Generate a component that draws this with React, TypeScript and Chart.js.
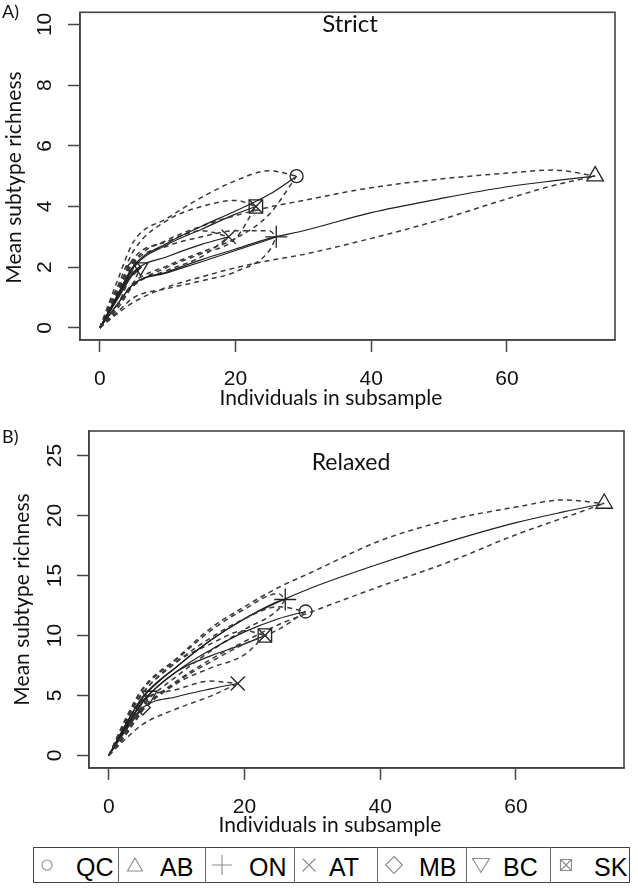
import React, { useEffect, useRef } from "react";
import { Chart, registerables } from "chart.js";

Chart.register(...registerables);

// ---------- data ----------
const REGIONS = ["QC", "AB", "ON", "AT", "MB", "BC", "SK"];
const X_TICKS = [0, 20, 40, 60];
const STRICT_Y_TICKS = [0, 2, 4, 6, 8, 10];
const RELAXED_Y_TICKS = [0, 5, 10, 15, 20, 25];

// subsample sizes at which each region's curve is drawn
const X_QC = [0, 2.5, 5, 10, 15, 20, 25, 29];
const X_AB = [0, 2.5, 5, 10, 15, 20, 25, 30, 40, 50, 60, 67, 73];
const X_ON = [0, 2.5, 5, 10, 15, 20, 25, 26];
const X_AT = [0, 2.5, 5, 10, 15, 19];
const X_MB = [0, 2.5, 5];
const X_BC = [0, 2.5, 5, 6];
const X_SK = [0, 2.5, 5, 10, 15, 20, 23];

// A) Strict
const STRICT_QC_MEAN = [0, 1.05, 2.05, 2.8, 3.35, 3.85, 4.4, 5];
const STRICT_QC_HIGH = [0, 1.5, 2.85, 3.62, 4.3, 4.85, 5.18, 5];
const STRICT_QC_LOW = [0, 0.75, 1.5, 2.05, 2.5, 2.95, 3.75, 5];
const STRICT_AB_MEAN = [0, 0.75, 1.45, 1.85, 2.25, 2.6, 2.95, 3.2, 3.8, 4.25, 4.65, 4.85, 5];
const STRICT_AB_HIGH = [0, 1.15, 2.2, 2.9, 3.35, 3.7, 3.98, 4.2, 4.62, 4.9, 5.1, 5.2, 5];
const STRICT_AB_LOW = [0, 0.45, 0.85, 1.35, 1.68, 1.98, 2.22, 2.42, 2.95, 3.55, 4.25, 4.7, 5];
const STRICT_ON_MEAN = [0, 0.75, 1.45, 1.82, 2.18, 2.55, 2.92, 3];
const STRICT_ON_HIGH = [0, 1.1, 2.15, 2.7, 3.0, 3.2, 3.2, 3];
const STRICT_ON_LOW = [0, 0.5, 1.0, 1.3, 1.55, 1.85, 2.55, 3];
const STRICT_AT_MEAN = [0, 0.95, 1.85, 2.35, 2.75, 3];
const STRICT_AT_HIGH = [0, 1.2, 2.3, 2.85, 3.2, 3];
const STRICT_AT_LOW = [0, 0.7, 1.4, 1.9, 2.35, 3];
const STRICT_MB_MEAN = [0, 1.0, 2];
const STRICT_MB_HIGH = [0, 1.3, 2];
const STRICT_MB_LOW = [0, 0.7, 2];
const STRICT_BC_MEAN = [0, 0.9, 1.8, 2];
const STRICT_BC_HIGH = [0, 1.2, 2.15, 2];
const STRICT_BC_LOW = [0, 0.6, 1.5, 2];
const STRICT_SK_MEAN = [0, 1.0, 2.0, 2.75, 3.25, 3.75, 4];
const STRICT_SK_HIGH = [0, 1.3, 2.55, 3.55, 4.0, 4.2, 4];
const STRICT_SK_LOW = [0, 0.7, 1.4, 2.0, 2.45, 2.95, 4];

// B) Relaxed
const RELAXED_QC_MEAN = [0, 2.4, 4.5, 7.0, 8.8, 10.3, 11.4, 12];
const RELAXED_QC_HIGH = [0, 2.9, 5.2, 7.8, 9.8, 11.4, 12.4, 12];
const RELAXED_QC_LOW = [0, 1.9, 3.8, 6.1, 7.8, 9.3, 10.5, 12];
const RELAXED_AB_MEAN = [0, 2.6, 4.9, 7.4, 9.6, 11.4, 12.8, 14.0, 16.0, 17.8, 19.4, 20.3, 21];
const RELAXED_AB_HIGH = [0, 3.1, 5.6, 8.1, 10.6, 12.4, 14.0, 15.3, 17.9, 19.6, 20.7, 21.3, 21];
const RELAXED_AB_LOW = [0, 2.0, 3.9, 6.2, 8.0, 9.5, 10.9, 12.0, 14.1, 16.1, 18.4, 19.8, 21];
const RELAXED_ON_MEAN = [0, 2.6, 4.8, 7.4, 9.6, 11.4, 12.85, 13];
const RELAXED_ON_HIGH = [0, 3.0, 5.5, 8.0, 10.4, 12.2, 13.5, 13];
const RELAXED_ON_LOW = [0, 2.2, 4.2, 6.6, 8.7, 10.5, 12.2, 13];
const RELAXED_AT_MEAN = [0, 2.2, 4.0, 4.9, 5.55, 6];
const RELAXED_AT_HIGH = [0, 2.6, 4.6, 5.5, 6.2, 6];
const RELAXED_AT_LOW = [0, 1.4, 2.6, 3.9, 4.95, 6];
const RELAXED_MB_MEAN = [0, 2.1, 4];
const RELAXED_MB_HIGH = [0, 2.5, 4];
const RELAXED_MB_LOW = [0, 1.7, 4];
const RELAXED_BC_MEAN = [0, 2.3, 4.4, 5];
const RELAXED_BC_HIGH = [0, 2.8, 5.0, 5];
const RELAXED_BC_LOW = [0, 1.8, 3.8, 5];
const RELAXED_SK_MEAN = [0, 2.4, 4.5, 7.0, 8.3, 9.3, 10];
const RELAXED_SK_HIGH = [0, 2.8, 5.2, 7.8, 9.3, 10.4, 10];
const RELAXED_SK_LOW = [0, 2.0, 3.8, 6.0, 7.3, 8.4, 10];

// ---------- tables built from the arrays ----------
type Series = { name: string; xs: number[]; mean: number[]; low: number[]; high: number[] };

const STRICT: Series[] = [
  { name: "QC", xs: X_QC, mean: STRICT_QC_MEAN, low: STRICT_QC_LOW, high: STRICT_QC_HIGH },
  { name: "AB", xs: X_AB, mean: STRICT_AB_MEAN, low: STRICT_AB_LOW, high: STRICT_AB_HIGH },
  { name: "ON", xs: X_ON, mean: STRICT_ON_MEAN, low: STRICT_ON_LOW, high: STRICT_ON_HIGH },
  { name: "AT", xs: X_AT, mean: STRICT_AT_MEAN, low: STRICT_AT_LOW, high: STRICT_AT_HIGH },
  { name: "MB", xs: X_MB, mean: STRICT_MB_MEAN, low: STRICT_MB_LOW, high: STRICT_MB_HIGH },
  { name: "BC", xs: X_BC, mean: STRICT_BC_MEAN, low: STRICT_BC_LOW, high: STRICT_BC_HIGH },
  { name: "SK", xs: X_SK, mean: STRICT_SK_MEAN, low: STRICT_SK_LOW, high: STRICT_SK_HIGH },
];

const RELAXED: Series[] = [
  { name: "QC", xs: X_QC, mean: RELAXED_QC_MEAN, low: RELAXED_QC_LOW, high: RELAXED_QC_HIGH },
  { name: "AB", xs: X_AB, mean: RELAXED_AB_MEAN, low: RELAXED_AB_LOW, high: RELAXED_AB_HIGH },
  { name: "ON", xs: X_ON, mean: RELAXED_ON_MEAN, low: RELAXED_ON_LOW, high: RELAXED_ON_HIGH },
  { name: "AT", xs: X_AT, mean: RELAXED_AT_MEAN, low: RELAXED_AT_LOW, high: RELAXED_AT_HIGH },
  { name: "MB", xs: X_MB, mean: RELAXED_MB_MEAN, low: RELAXED_MB_LOW, high: RELAXED_MB_HIGH },
  { name: "BC", xs: X_BC, mean: RELAXED_BC_MEAN, low: RELAXED_BC_LOW, high: RELAXED_BC_HIGH },
  { name: "SK", xs: X_SK, mean: RELAXED_SK_MEAN, low: RELAXED_SK_LOW, high: RELAXED_SK_HIGH },
];

// ---------- styles ----------
const MARKERS: Record<string, { style: string; r: number; rot?: number }[]> = {
  QC: [{ style: "circle", r: 6.5 }],
  AB: [{ style: "triangle", r: 9.5 }],
  ON: [{ style: "cross", r: 11 }],
  AT: [{ style: "crossRot", r: 10 }],
  MB: [{ style: "rectRot", r: 7.5 }],
  BC: [{ style: "triangle", r: 8.5, rot: 180 }],
  SK: [{ style: "rect", r: 9.5 }, { style: "crossRot", r: 9.5 }],
};
const LEGEND_LAYOUT = [
  { l: 33, sx: 47, tx: 76 },
  { l: 118, sx: 135, tx: 160 },
  { l: 205, sx: 222, tx: 249 },
  { l: 294, sx: 309, tx: 329 },
  { l: 377, sx: 394, tx: 419 },
  { l: 466, sx: 481, tx: 503 },
  { l: 550, sx: 566, tx: 594 },
];

const TICK_FONT = { family: "'Liberation Sans', Arial, sans-serif", size: 21 };
const TITLE_FONT = "Lato, 'Open Sans', sans-serif";

function buildDatasets(series: Series[]) {
  const ds: any[] = [];
  const common = {
    showLine: true,
    pointRadius: 0,
    pointHoverRadius: 0,
    fill: false,
    cubicInterpolationMode: "monotone",
  };
  for (const s of series) {
    const pts = (ys: number[]) => s.xs.map((x, i) => ({ x, y: ys[i] }));
    ds.push({ ...common, data: pts(s.high), borderColor: "#3a3a3a", borderWidth: 1.5, borderDash: [5, 4] });
    ds.push({ ...common, data: pts(s.low), borderColor: "#3a3a3a", borderWidth: 1.5, borderDash: [5, 4] });
    ds.push({ ...common, data: pts(s.mean), borderColor: "#1e1e1e", borderWidth: 1.2 });
  }
  for (const s of series) {
    const last = s.xs.length - 1;
    for (const m of MARKERS[s.name]) {
      ds.push({
        data: [{ x: s.xs[last], y: s.mean[last] }],
        showLine: false,
        pointStyle: m.style,
        pointRadius: m.r,
        pointHoverRadius: m.r,
        pointRotation: m.rot || 0,
        pointBorderColor: "#222",
        pointBackgroundColor: "rgba(0,0,0,0)",
        pointBorderWidth: 1.3,
        clip: false,
      });
    }
  }
  return ds;
}

const boxPlugin = {
  id: "rbox",
  afterDatasetsDraw(chart: any) {
    const { ctx, chartArea } = chart;
    ctx.save();
    ctx.strokeStyle = "#444";
    ctx.lineWidth = 1.6;
    ctx.strokeRect(chartArea.left, chartArea.top, chartArea.right - chartArea.left, chartArea.bottom - chartArea.top);
    ctx.restore();
  },
};

type PanelProps = {
  series: Series[];
  yTicks: number[];
  yMin: number;
  yMax: number;
  top: number;
  right: number;
  yWidth: number;
  xHeight: number;
  yPad: number;
  height: number;
};

function Panel(p: PanelProps) {
  const ref = useRef<HTMLCanvasElement>(null);
  useEffect(() => {
    const grid = {
      display: true,
      drawOnChartArea: false,
      drawTicks: true,
      tickLength: 12,
      tickColor: "#444",
      tickWidth: 1.5,
    };
    const border = { display: true, color: "#444", width: 1.5 };
    const chart = new Chart(ref.current as HTMLCanvasElement, {
      type: "scatter",
      data: { datasets: buildDatasets(p.series) },
      plugins: [boxPlugin],
      options: {
        animation: false,
        responsive: false,
        devicePixelRatio: 1,
        events: [],
        layout: { padding: { top: p.top, right: p.right, left: 0, bottom: 0 } },
        plugins: { legend: { display: false }, tooltip: { enabled: false }, title: { display: false } },
        scales: {
          x: {
            type: "linear",
            min: -2.92,
            max: 75.92,
            afterBuildTicks: (s: any) => {
              s.ticks = X_TICKS.map((v) => ({ value: v }));
            },
            afterFit: (s: any) => {
              s.height = p.xHeight;
              s.paddingLeft = 0;
              s.paddingRight = 0;
            },
            ticks: { font: TICK_FONT, color: "#111", padding: 15, maxRotation: 0, autoSkip: false },
            grid,
            border,
          },
          y: {
            type: "linear",
            min: p.yMin,
            max: p.yMax,
            afterBuildTicks: (s: any) => {
              s.ticks = p.yTicks.map((v) => ({ value: v }));
            },
            afterFit: (s: any) => {
              s.width = p.yWidth;
              s.paddingTop = 0;
              s.paddingBottom = 0;
            },
            ticks: {
              font: TICK_FONT,
              color: "#111",
              padding: p.yPad,
              minRotation: 90,
              maxRotation: 90,
              crossAlign: "center",
              autoSkip: false,
            },
            grid,
            border,
          },
        },
      } as any,
    });
    return () => chart.destroy();
  }, []);
  return <canvas ref={ref} width={638} height={p.height} style={{ display: "block", width: 638, height: p.height }} />;
}

function Text(props: { children: any; style: any }) {
  return (
    <div style={{ position: "absolute", whiteSpace: "nowrap", color: "#111", lineHeight: 1, ...props.style }}>
      {props.children}
    </div>
  );
}

function YTitle(props: { cx: number; cy: number }) {
  const w = 260;
  return (
    <div
      style={{
        position: "absolute",
        left: props.cx - w / 2,
        top: props.cy - 10.5,
        width: w,
        height: 21,
        lineHeight: "21px",
        fontFamily: TITLE_FONT,
        fontSize: 21,
        textAlign: "center",
        color: "#111",
        transform: "rotate(-90deg)",
        whiteSpace: "nowrap",
      }}
    >
      Mean subtype richness
    </div>
  );
}

function LegendGlyph(props: { name: string }) {
  const st = { fill: "none", stroke: "#8c8c8c", strokeWidth: 1.1 };
  let shape: any = null;
  switch (props.name) {
    case "QC":
      shape = <circle cx={12} cy={12} r={5} {...st} />;
      break;
    case "AB":
      shape = <polygon points="12,5 19.5,18 4.5,18" {...st} />;
      break;
    case "ON":
      shape = <path d="M2 12 H22 M12 2 V22" {...st} />;
      break;
    case "AT":
      shape = <path d="M5.5 5.5 L18.5 18.5 M18.5 5.5 L5.5 18.5" {...st} />;
      break;
    case "MB":
      shape = <polygon points="12,3.5 20.5,12 12,20.5 3.5,12" {...st} />;
      break;
    case "BC":
      shape = <polygon points="3.5,5.5 20.5,5.5 12,19.5" {...st} />;
      break;
    case "SK":
      shape = (
        <g {...st}>
          <rect x={6.5} y={6.5} width={11} height={11} />
          <path d="M6.5 6.5 L17.5 17.5 M17.5 6.5 L6.5 17.5" />
        </g>
      );
      break;
  }
  return (
    <svg width={24} height={24} viewBox="0 0 24 24" style={{ display: "block" }}>
      {shape}
    </svg>
  );
}

export default function App() {
  return (
    <div style={{ position: "absolute", left: 0, top: 0, width: 638, height: 894, background: "#fff", overflow: "hidden" }}>
      <div style={{ position: "absolute", left: 0, top: 0 }}>
        <Panel series={STRICT} yTicks={STRICT_Y_TICKS} yMin={-0.4} yMax={10.4} top={3} right={23} yWidth={80} xHeight={72} yPad={11} height={412} />
      </div>
      <div style={{ position: "absolute", left: 0, top: 412 }}>
        <Panel series={RELAXED} yTicks={RELAXED_Y_TICKS} yMin={-1.04} yMax={27.04} top={19} right={14} yWidth={89} xHeight={64} yPad={10} height={420} />
      </div>

      <Text style={{ left: 2, top: 2, fontFamily: TITLE_FONT, fontSize: 18 }}>A)</Text>
      <Text style={{ left: 2, top: 427, fontFamily: TITLE_FONT, fontSize: 18 }}>B)</Text>
      <Text style={{ left: 250, width: 200, top: 10.7, textAlign: "center", fontFamily: TITLE_FONT, fontSize: 24 }}>Strict</Text>
      <Text style={{ left: 251, width: 200, top: 449.6, textAlign: "center", fontFamily: TITLE_FONT, fontSize: 23 }}>Relaxed</Text>
      <Text style={{ left: 181, width: 300, top: 386.4, textAlign: "center", fontFamily: TITLE_FONT, fontSize: 21 }}>Individuals in subsample</Text>
      <Text style={{ left: 180, width: 300, top: 813.4, textAlign: "center", fontFamily: TITLE_FONT, fontSize: 21 }}>Individuals in subsample</Text>
      <YTitle cx={12.4} cy={177} />
      <YTitle cx={20.4} cy={599} />

      <div style={{ position: "absolute", left: 33, top: 847, width: 597, height: 36, border: "1px solid #444", boxSizing: "border-box" }} />
      {REGIONS.map((name, i) => {
        const c = LEGEND_LAYOUT[i];
        return (
          <React.Fragment key={name}>
            {i > 0 && <div style={{ position: "absolute", left: c.l, top: 847, width: 1, height: 36, background: "#666" }} />}
            <div style={{ position: "absolute", left: c.sx - 12, top: 853 }}>
              <LegendGlyph name={name} />
            </div>
            <div
              style={{
                position: "absolute",
                left: c.tx,
                top: 849,
                height: 36,
                lineHeight: "36px",
                fontFamily: "'Liberation Sans Narrow', 'Liberation Sans', Arial, sans-serif",
                fontSize: 25,
                color: "#000",
                whiteSpace: "nowrap",
              }}
            >
              {name}
            </div>
          </React.Fragment>
        );
      })}
    </div>
  );
}
